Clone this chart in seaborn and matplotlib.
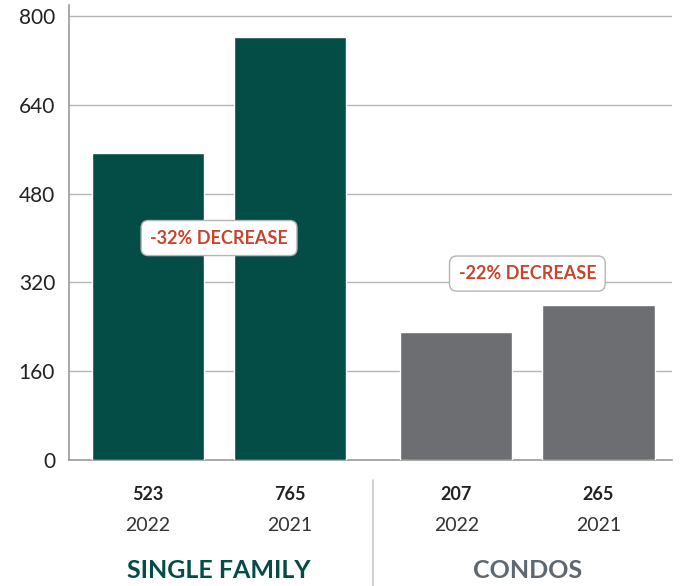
import matplotlib
matplotlib.use("Agg")
import matplotlib.pyplot as plt
import seaborn as sns
import pandas as pd

# data
groups = ["SINGLE FAMILY", "SINGLE FAMILY", "CONDOS", "CONDOS"]
years = ["2022", "2021", "2022", "2021"]
value_labels = ["523", "765", "207", "265"]
bar_heights = [553, 762, 231, 280]
positions = [0, 1, 2.17, 3.17]
change_labels = ["-32% DECREASE", "-22% DECREASE"]
yticks = [0, 160, 320, 480, 640, 800]

GREEN = "#034d46"
GRAY = "#6d6e71"
RED = "#c6452d"

sns.set_style("white")
plt.rcParams["font.family"] = ["Lato", "DejaVu Sans"]

df = pd.DataFrame({"pos": positions, "height": bar_heights, "group": groups})

fig = plt.figure(figsize=(6.8, 5.86), dpi=100)
ax = fig.add_axes([0.1015, 0.215, 0.8865, 0.7765])

sns.barplot(data=df, x="pos", y="height", hue="group", native_scale=True,
            palette={"SINGLE FAMILY": GREEN, "CONDOS": GRAY},
            width=0.79, dodge=False, legend=False, saturation=1, ax=ax, zorder=3)

ax.set_xlim(-0.556, 3.687)
ax.set_ylim(0, 820)
ax.set_yticks(yticks)
ax.set_yticklabels([str(t) for t in yticks], fontsize=15, color="#222222")
ax.tick_params(axis="y", length=0, pad=10)
ax.set_xticks([])
ax.set_xlabel("")
ax.set_ylabel("")
ax.grid(axis="y", color="#b5b5b5", linewidth=1, zorder=0)
ax.set_axisbelow(True)
for s in ["top", "right"]:
    ax.spines[s].set_visible(False)
ax.spines["left"].set_color("#9a9a9a")
ax.spines["bottom"].set_color("#9a9a9a")
ax.spines["left"].set_linewidth(1.2)
ax.spines["bottom"].set_linewidth(1.2)

# change annotations between each pair of bars
box = dict(boxstyle="round,pad=0.5,rounding_size=0.4", fc="white", ec="#b5b5b5", lw=1)
for (i, j), txt, ypos in zip([(0, 1), (2, 3)], change_labels, [400, 336]):
    xm = (positions[i] + positions[j]) / 2
    ax.text(xm, ypos, txt, ha="center", va="center", fontsize=13, fontweight="bold",
            color=RED, bbox=box, zorder=5)

# labels under the axis
trans = ax.get_xaxis_transform()
for x, v, yr in zip(positions, value_labels, years):
    ax.text(x, -0.075, v, transform=trans, ha="center", va="center",
            fontsize=13, fontweight="bold", color="#222222", clip_on=False)
    ax.text(x, -0.143, yr, transform=trans, ha="center", va="center",
            fontsize=14, fontweight="normal", color="#333333", clip_on=False)

ax.text((positions[0] + positions[1]) / 2, -0.243, "SINGLE FAMILY", transform=trans,
        ha="center", va="center", fontsize=18, fontweight="bold", color=GREEN, clip_on=False)
ax.text((positions[2] + positions[3]) / 2, -0.243, "CONDOS", transform=trans,
        ha="center", va="center", fontsize=18, fontweight="bold", color="#5e6870", clip_on=False)

sep_x = (positions[1] + positions[2]) / 2
ax.plot([sep_x, sep_x], [-0.044, -0.28], transform=trans, color="#c8c8c8",
        linewidth=1.2, clip_on=False)

fig.savefig("out.png", dpi=100)
